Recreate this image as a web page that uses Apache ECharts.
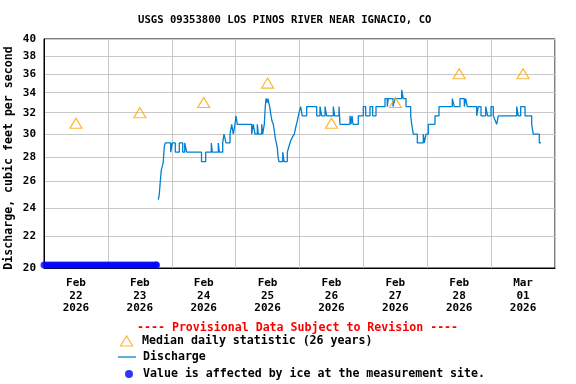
<!DOCTYPE html>
<html><head><meta charset="utf-8">
<script src="https://cdn.jsdelivr.net/npm/echarts@6/dist/echarts.min.js"></script>
<style>html,body{margin:0;padding:0;background:#fff}#c{width:576px;height:384px}</style>
</head><body><div id="c"></div>
<script>
const FONT = '"DejaVu Sans Mono", monospace';
const titleText = 'USGS 09353800 LOS PINOS RIVER NEAR IGNACIO, CO';
const provisionalText = '---- Provisional Data Subject to Revision ----';
const yAxisName = 'Discharge, cubic feet per second';
const legendNames = ['Median daily statistic (26 years)', 'Discharge', 'Value is affected by ice at the measurement site.'];

// y ticks (cfs), log-scaled axis
const yTickValues = [20, 22, 24, 26, 28, 30, 32, 34, 36, 38, 40];
// x: hours since Feb 22 2026 00:00
const xMinHour = 0, xMaxHour = 192;
const dayLabelHours = [12, 36, 60, 84, 108, 132, 156, 180];
const dayLabels = ['Feb\n22\n2026', 'Feb\n23\n2026', 'Feb\n24\n2026', 'Feb\n25\n2026', 'Feb\n26\n2026', 'Feb\n27\n2026', 'Feb\n28\n2026', 'Mar\n01\n2026'];

const medianHours = [12, 36, 60, 84, 108, 132, 156, 180];
const medianCfs = [31, 32, 33, 35, 31, 33, 36, 36];

const iceHours = [0,1,2,3,4,5,6,7,8,9,10,11,12,13,14,15,16,17,18,19,20,21,22,23,24,25,26,27,28,29,30,31,32,33,34,35,36,37,38,39,40,41,42,42.25];
const iceCfs = 20;

const dischargeHours = [42.95,43.32,43.70,44.07,44.45,44.82,45.20,45.58,47.60,48.20,49.33,50.84,52.11,52.87,53.62,59.18,60.75,62.86,63.24,65.49,65.87,67.14,67.63,68.38,69.89,70.53,71.13,71.76,72.14,72.63,78.04,78.64,79.28,80.14,80.52,81.80,82.17,82.77,83.15,83.41,83.90,84.16,84.43,84.80,85.18,85.67,86.15,86.53,86.91,87.28,87.66,87.92,88.30,89.69,90.18,91.42,92.17,92.69,93.30,94.04,94.56,95.16,95.55,95.92,96.43,97.05,98.70,102.46,103.70,104.34,105.58,106.22,108.70,109.22,110.84,111.22,114.97,115.35,115.72,116.10,118.09,119.97,120.87,122.49,123.50,124.74,128.12,128.98,129.36,131.13,131.88,134.40,135.00,136.01,137.78,138.16,138.76,140.26,142.51,142.89,143.53,144.39,146.91,148.41,153.41,154.16,156.30,157.92,158.44,159.05,162.58,163.18,164.19,165.96,166.71,167.95,168.82,169.45,170.09,170.69,177.61,178.21,179.11,180.73,183.24,183.84,186.10,186.74];
const dischargeCfs = [24.6,25.0,26.0,26.9,27.2,27.6,28.9,29.2,28.4,29.2,28.4,29.2,28.4,29.2,28.4,27.6,28.4,29.2,28.4,29.2,28.4,29.2,30.0,29.2,30.0,30.9,30.0,30.9,31.7,30.9,30.0,30.9,30.0,30.9,30.0,30.9,30.0,30.9,32.6,33.4,33.0,33.4,33.0,32.6,31.9,31.2,30.9,30.3,29.6,29.2,28.8,28.0,27.6,28.4,27.6,28.4,29.0,29.4,29.7,30.0,30.6,31.2,31.7,32.1,32.6,31.7,32.6,31.7,32.6,31.7,32.6,31.7,32.6,31.7,32.6,30.9,31.7,30.9,31.7,30.9,31.7,32.6,31.7,32.6,31.7,32.6,33.4,32.6,33.4,32.6,33.4,34.3,33.4,32.6,31.7,30.9,30.0,29.2,30.0,29.2,30.0,30.9,31.7,32.6,33.4,32.6,33.4,32.6,33.4,32.6,31.7,32.6,31.7,32.6,31.7,32.6,31.7,31.3,30.9,31.7,32.6,31.7,32.6,31.7,30.9,30.0,29.2,29.2];

const L = Math.log;
const chart = echarts.init(document.getElementById('c'), null, {renderer: 'canvas'});
const txt = (size, extra) => Object.assign({fontFamily: FONT, fontWeight: 'bold', fontSize: size, color: '#000'}, extra || {});

chart.setOption({
  animation: false,
  backgroundColor: '#fff',
  title: [
    {text: titleText, left: 138, top: 14, padding: 0, textStyle: txt(10.6, {lineHeight: 12})},
    {text: provisionalText, left: 137, top: 321, padding: 0, textStyle: txt(11.6, {color: '#ff0000', lineHeight: 14})}
  ],
  grid: {left: 44, right: 21, top: 39, bottom: 116, show: true, borderColor: '#000', borderWidth: 1, containLabel: false, outerBoundsMode: 'none'},
  xAxis: {
    type: 'value', min: xMinHour, max: xMaxHour, interval: 24,
    axisLine: {show: true, lineStyle: {color: '#000', width: 1}},
    axisTick: {show: false},
    splitLine: {show: true, lineStyle: {color: '#c8c8c8', width: 1}},
    axisLabel: {
      customValues: dayLabelHours, margin: 9,
      formatter: v => dayLabels[dayLabelHours.indexOf(v)] || '',
      ...txt(11, {lineHeight: 12.5})
    }
  },
  yAxis: {
    type: 'value', min: L(yTickValues[0]), max: L(yTickValues[yTickValues.length - 1]),
    name: yAxisName, nameLocation: 'middle', nameRotate: 90, nameGap: 29, nameMoveOverlap: false,
    nameTextStyle: txt(11.6, {padding: [0, 9, 0, 0]}),
    axisLine: {show: true, lineStyle: {color: '#000', width: 1}},
    axisTick: {show: false, customValues: yTickValues.map(L)},
    splitLine: {show: true, lineStyle: {color: '#c8c8c8', width: 1}},
    axisLabel: {
      customValues: yTickValues.map(L), margin: 8,
      formatter: v => String(Math.round(Math.exp(v))),
      ...txt(11)
    }
  },
  legend: [
    {data: [{name: legendNames[0], icon: 'path://M6,0L12,10L0,10Z', itemStyle: {color: 'rgba(0,0,0,0)', borderColor: '#ffa500', borderWidth: 1.2}}],
     left: 120, top: 335, padding: 0, itemWidth: 15, itemHeight: 10, selectedMode: false, textStyle: txt(11.6, {padding: [0, 0, 0, 3]})},
    {data: [{name: legendNames[1], icon: 'rect', itemStyle: {color: '#0a80d0', borderWidth: 0}}],
     left: 118, top: 351, padding: 0, itemWidth: 18, itemHeight: 1.3, selectedMode: false, textStyle: txt(11.6, {padding: [0, 0, 0, 2]})},
    {data: [{name: legendNames[2], icon: 'circle'}],
     left: 125, top: 368, padding: 0, itemWidth: 8, itemHeight: 8, selectedMode: false, textStyle: txt(11.6, {padding: [0, 0, 0, 5]})}
  ],
  series: [
    {
      name: legendNames[2], type: 'scatter', symbol: 'circle', symbolSize: 7, symbolOffset: [0, -3],
      clip: false, itemStyle: {color: '#0000ff'}, z: 4,
      data: iceHours.map(h => [h, L(iceCfs)])
    },
    {
      name: legendNames[1], type: 'line', step: 'end', symbol: 'none',
      lineStyle: {color: '#0080d0', width: 1.3}, itemStyle: {color: '#0080d0'}, z: 3,
      data: dischargeHours.map((h, i) => [h, L(dischargeCfs[i])])
    },
    {
      name: legendNames[0], type: 'scatter', symbol: 'triangle', symbolSize: [12, 10],
      itemStyle: {color: 'rgba(0,0,0,0)', borderColor: '#ffa500', borderWidth: 1.2}, z: 5,
      data: medianHours.map((h, i) => [h, L(medianCfs[i])])
    }
  ]
});
</script></body></html>
